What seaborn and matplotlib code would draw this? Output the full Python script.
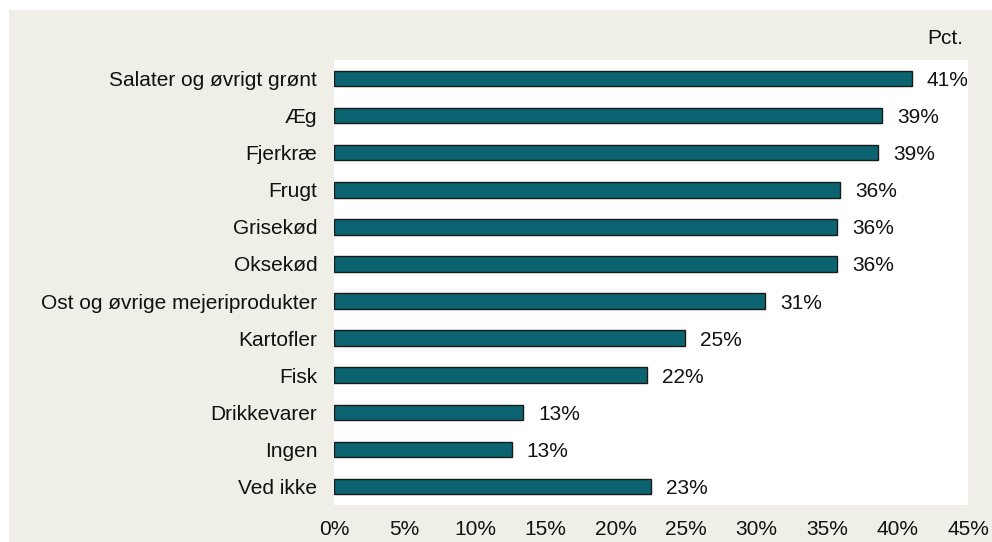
import matplotlib
matplotlib.use("Agg")
import matplotlib.pyplot as plt
import seaborn as sns
import pandas as pd
from matplotlib.patches import Rectangle

categories = ["Salater og øvrigt grønt", "Æg", "Fjerkræ", "Frugt", "Grisekød",
              "Oksekød", "Ost og øvrige mejeriprodukter", "Kartofler", "Fisk",
              "Drikkevarer", "Ingen", "Ved ikke"]
values = [41.0, 38.9, 38.6, 35.9, 35.7, 35.7, 30.6, 24.9, 22.2, 13.4, 12.6, 22.5]
value_labels = ["41%", "39%", "39%", "36%", "36%", "36%", "31%", "25%", "22%",
                "13%", "13%", "23%"]
x_ticks = [0, 5, 10, 15, 20, 25, 30, 35, 40, 45]
x_tick_labels = ["0%", "5%", "10%", "15%", "20%", "25%", "30%", "35%", "40%", "45%"]

sns.set_style("white")
plt.rcParams["font.family"] = ["Liberation Sans", "DejaVu Sans"]

df = pd.DataFrame({"cat": categories, "val": values})

fig = plt.figure(figsize=(9.92, 5.42), dpi=100)
fig.patch.set_facecolor("white")
bg = Rectangle((9 / 992, 0), 1 - 9 / 992, 1 - 10 / 542,
               transform=fig.transFigure, facecolor="#EFEEE7",
               edgecolor="none", zorder=-10)
fig.add_artist(bg)

ax = fig.add_axes([334 / 992, 37 / 542, 634 / 992, 445 / 542])
ax.set_facecolor("white")

sns.barplot(data=df, y="cat", x="val", orient="h", color="#0B6470",
            edgecolor="#1a1a1a", linewidth=1.0, width=0.42, saturation=1,
            ax=ax)

ax.set_xlim(0, 45)
ax.set_ylim(11.5, -0.5)
ax.set_xticks(x_ticks)
ax.set_xticklabels(x_tick_labels, fontsize=15, color="#111111")
for t in ax.get_yticklabels():
    t.set_color("#111111")
ax.tick_params(axis="x", length=0, pad=11)
ax.tick_params(axis="y", length=0, pad=12, labelsize=15)
ax.set_xlabel("")
ax.set_ylabel("")
for s in ax.spines.values():
    s.set_visible(False)

for i, (v, lab) in enumerate(zip(values, value_labels)):
    ax.annotate(lab, xy=(v, i), xytext=(11, 0), textcoords="offset points",
                ha="left", va="center_baseline", fontsize=15, color="#111111",
                annotation_clip=False)

fig.text(963 / 992, 1 - 37 / 542, "Pct.", ha="right", va="center_baseline",
         fontsize=15, color="#111111")

fig.savefig("out.png", dpi=100)
